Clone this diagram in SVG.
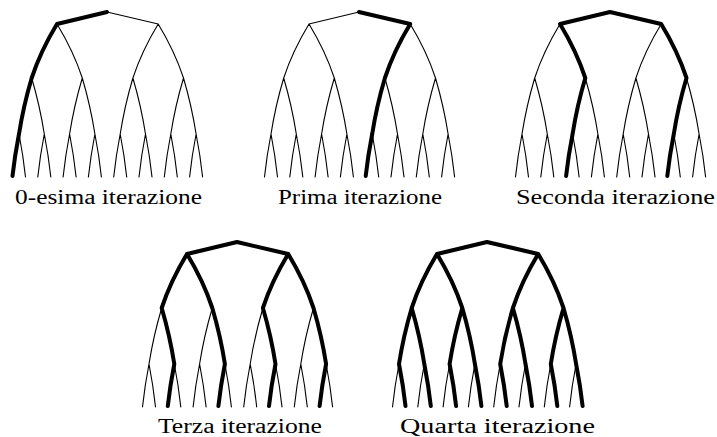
<svg xmlns="http://www.w3.org/2000/svg" width="717" height="437" viewBox="0 0 717 437">
<style>
.thin{stroke:#000;stroke-width:1.1;fill:none;stroke-linecap:round}
.thick{stroke:#000;stroke-width:4;fill:none;stroke-linejoin:round;stroke-linecap:round}
.lbl{font-family:"Liberation Serif","Times New Roman",serif;font-size:20px;fill:#000}
</style>
<defs>
<g id="tree">
<path class="thin" d="M107,12 L57,24 M107,12 L158.2,24
M57,24 Q40.6,51 31.7,78 M57,24 Q73.4,51 82.3,78 M158.2,24 Q141.8,51 132.9,78 M158.2,24 Q174.6,51 183.5,78
M31.7,78 Q23.4,106 19,134 M31.7,78 Q39.9,106 44.3,134 M82.3,78 Q74,106 69.6,134 M82.3,78 Q90.5,106 94.9,134
M132.9,78 Q124.6,106 120.2,134 M132.9,78 Q141.1,106 145.5,134 M183.5,78 Q175.2,106 170.8,134 M183.5,78 Q191.7,106 196.1,134
M19,134 Q14.8,155.5 12.5,177 M19,134 Q23.2,155.5 25.5,177 M44.3,134 Q40.1,155.5 37.8,177 M44.3,134 Q48.5,155.5 50.8,177
M69.6,134 Q65.4,155.5 63.1,177 M69.6,134 Q73.8,155.5 76.1,177 M94.9,134 Q90.7,155.5 88.4,177 M94.9,134 Q99.1,155.5 101.4,177
M120.2,134 Q116,155.5 113.7,177 M120.2,134 Q124.4,155.5 126.7,177 M145.5,134 Q141.3,155.5 139,177 M145.5,134 Q149.7,155.5 152,177
M170.8,134 Q166.6,155.5 164.3,177 M170.8,134 Q175,155.5 177.3,177 M196.1,134 Q191.9,155.5 189.6,177 M196.1,134 Q200.3,155.5 202.6,177"/>
</g>
</defs>
<rect width="717" height="437" fill="#fff"/>

<g id="panel-0" transform="translate(0,0)">
<g class="connectors">
<use href="#tree"/>
<path class="thick" d="M107,12 L57,24 Q40.6,51 31.7,78 Q23.4,106 19,134 Q14.8,155.5 12.5,176"/>
</g>
<text class="lbl" x="15" y="204" textLength="187" lengthAdjust="spacingAndGlyphs">0-esima iterazione</text>
</g>

<g id="panel-1" transform="translate(252,0)">
<g class="connectors">
<use href="#tree"/>
<path class="thick" d="M107,12 L158.2,24 Q141.8,51 132.9,78 Q124.6,106 120.2,134 Q116,155.5 113.7,176"/>
</g>
<text class="lbl" x="26" y="204" textLength="164" lengthAdjust="spacingAndGlyphs">Prima iterazione</text>
</g>

<g id="panel-2" transform="translate(503,0)">
<g class="connectors">
<use href="#tree"/>
<path class="thick" d="M63.1,176 Q65.4,155.5 69.6,134 Q74,106 82.3,78 Q73.4,51 57,24 L107,12 L158.2,24 Q174.6,51 183.5,78 Q175.2,106 170.8,134 Q166.6,155.5 164.3,176"/>
</g>
<text class="lbl" x="13" y="204" textLength="199" lengthAdjust="spacingAndGlyphs">Seconda iterazione</text>
</g>

<g id="panel-3" transform="translate(130,230)">
<g class="connectors">
<use href="#tree"/>
<path class="thick" d="M57,24 L107,12 L158.2,24
M37.8,176 Q40.1,155.5 44.3,134 Q39.9,106 31.7,78 Q40.6,51 57,24 Q73.4,51 82.3,78 Q90.5,106 94.9,134 Q90.7,155.5 88.4,176
M139,176 Q141.3,155.5 145.5,134 Q141.1,106 132.9,78 Q141.8,51 158.2,24 Q174.6,51 183.5,78 Q191.7,106 196.1,134 Q191.9,155.5 189.6,176"/>
</g>
<text class="lbl" x="28" y="203" textLength="164" lengthAdjust="spacingAndGlyphs">Terza iterazione</text>
</g>

<g id="panel-4" transform="translate(380,230)">
<g class="connectors">
<use href="#tree"/>
<path class="thick" d="M57,24 L107,12 L158.2,24
M31.7,78 Q40.6,51 57,24 Q73.4,51 82.3,78
M132.9,78 Q141.8,51 158.2,24 Q174.6,51 183.5,78
M25.5,176 Q23.2,155.5 19,134 Q23.4,106 31.7,78 Q39.9,106 44.3,134 Q48.5,155.5 50.8,176
M76.1,176 Q73.8,155.5 69.6,134 Q74,106 82.3,78 Q90.5,106 94.9,134 Q99.1,155.5 101.4,176
M126.7,176 Q124.4,155.5 120.2,134 Q124.6,106 132.9,78 Q141.1,106 145.5,134 Q149.7,155.5 152,176
M177.3,176 Q175,155.5 170.8,134 Q175.2,106 183.5,78 Q191.7,106 196.1,134 Q200.3,155.5 202.6,176"/>
</g>
<text class="lbl" x="20" y="203" textLength="195" lengthAdjust="spacingAndGlyphs">Quarta iterazione</text>
</g>
</svg>
